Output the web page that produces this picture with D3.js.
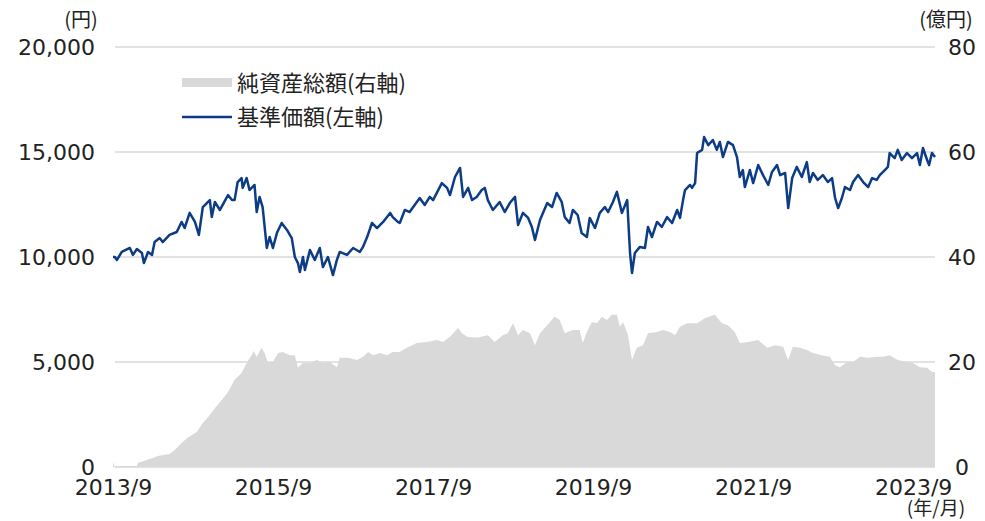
<!DOCTYPE html>
<html>
<head>
<meta charset="utf-8">
<script src="https://cdnjs.cloudflare.com/ajax/libs/d3/7.8.5/d3.min.js"></script>
<style>
  body { margin: 0; background: #fff; }
  svg text { fill: #222; }
  .num { font-family: "DejaVu Sans", "Noto Sans CJK JP", sans-serif; font-size: 23px; }
  .jp { font-family: "Noto Sans CJK JP", sans-serif; }
</style>
</head>
<body>
<div id="chart"></div>
<script>
// 基準価額（左軸, 円）
const priceDates = ["2013-09-01","2013-09-10","2013-09-19","2013-10-11","2013-11-17","2013-12-01","2013-12-19","2014-01-11","2014-01-20","2014-02-08","2014-02-26","2014-03-10","2014-04-02","2014-04-16","2014-05-17","2014-06-19","2014-07-11","2014-07-25","2014-08-17",
  "2014-09-10","2014-09-28","2014-10-16","2014-11-17","2014-11-26","2014-12-10","2015-01-02","2015-02-08","2015-02-26","2015-03-10","2015-03-24","2015-04-11","2015-04-16","2015-05-04","2015-05-17","2015-06-09","2015-06-19","2015-07-02","2015-07-16","2015-08-04","2015-08-17",
  "2015-09-01","2015-09-19","2015-10-11","2015-11-04","2015-11-26","2015-12-10","2015-12-24","2016-01-02","2016-01-16","2016-01-25","2016-02-17","2016-03-10","2016-04-02","2016-04-16","2016-05-09","2016-06-01","2016-06-19","2016-07-02","2016-08-04",
  "2016-09-01","2016-10-02","2016-10-16","2016-11-04","2016-11-26","2016-12-19","2017-01-16","2017-02-17","2017-03-01","2017-03-24","2017-04-02","2017-04-25","2017-05-17","2017-06-09","2017-07-02","2017-07-25","2017-08-17",
  "2017-09-01","2017-10-11","2017-11-04","2017-11-17","2017-12-10","2018-01-02","2018-01-16","2018-02-08","2018-02-26","2018-03-19","2018-04-11","2018-04-25","2018-05-09","2018-06-01","2018-07-02","2018-07-25","2018-08-17",
  "2018-09-10","2018-09-24","2018-10-16","2018-11-09","2018-11-26","2018-12-10","2019-01-02","2019-02-04","2019-02-26","2019-03-19","2019-04-11","2019-04-25","2019-05-17","2019-06-01","2019-06-23","2019-07-11","2019-08-04","2019-08-17",
  "2019-09-10","2019-10-02","2019-10-25","2019-11-09","2019-12-01","2019-12-19","2020-01-11","2020-02-04","2020-02-17","2020-02-26","2020-03-10","2020-04-02","2020-04-25","2020-05-09","2020-05-27","2020-06-19","2020-07-11","2020-08-04","2020-08-27",
  "2020-09-19","2020-10-02","2020-10-16","2020-10-25","2020-11-17","2020-11-26","2020-12-10","2020-12-19","2021-01-11","2021-01-20","2021-02-08","2021-03-01","2021-03-19","2021-04-02","2021-04-16","2021-05-09","2021-06-01","2021-06-19","2021-07-02","2021-07-16","2021-07-25","2021-08-17",
  "2021-09-01","2021-09-24","2021-10-16","2021-11-09","2021-11-26","2021-12-19","2022-01-02","2022-01-25","2022-02-08","2022-02-26","2022-03-19","2022-04-11","2022-05-04","2022-05-17","2022-06-01","2022-06-23","2022-07-16","2022-08-08","2022-08-27",
  "2022-09-10","2022-09-24","2022-10-11","2022-10-25","2022-11-17","2022-12-01","2022-12-24","2023-01-16","2023-02-08","2023-02-26","2023-03-19","2023-04-02","2023-04-25","2023-05-09","2023-05-17","2023-06-09","2023-06-23","2023-07-11","2023-08-04","2023-08-27",
  "2023-09-19","2023-10-02","2023-10-16","2023-11-04","2023-11-13","2023-11-26","2023-12-10"];
const priceValues = [10000,10000,9860,10240,10430,10100,10380,10190,9710,10240,10100,10710,10900,10710,11050,11190,11670,11380,12100,
  11670,11050,12380,12710,11900,12620,12240,12950,12710,12710,13570,13760,13290,13760,13190,13430,12140,12860,12380,10430,10950,
  10430,11140,11620,11290,10900,10000,9710,9290,10000,9380,10330,9860,10430,9520,10000,9140,9860,10240,10100,
  10430,10240,10480,10950,11620,11380,11670,12100,11900,11670,11620,12240,12140,12480,12810,12480,12860,
  12710,13520,13290,12950,13810,14240,12860,13290,12710,12860,13190,13290,12710,12240,12620,12140,12570,
  12860,11520,12100,11860,11430,10810,11760,12570,12380,13050,12620,11900,11620,12240,12000,11140,10950,11860,
  11380,12100,12380,12140,12620,13100,12100,12710,10190,9240,10190,10480,10430,11430,10950,11670,11430,11900,11620,
  12240,11860,12710,13190,13430,13290,13520,14950,15100,15710,15330,15570,15100,15480,14760,15480,15330,14760,13810,14140,13330,14140,
  13520,14380,13900,13430,14050,14380,13900,14000,12330,13760,14290,13810,14520,13570,14000,13670,13900,13570,13760,
  12810,12330,12810,13330,13190,13570,13900,13570,13330,13760,13670,13900,14140,14290,14950,14710,15100,14620,14950,14710,
  14950,14380,15190,14620,14380,14950,14760];

// 純資産総額（右軸, 億円）
const assetDates = ["2013-09-01","2013-09-06","2013-12-19","2013-12-24","2014-01-16","2014-03-01","2014-03-24","2014-05-17","2014-06-09","2014-07-02","2014-08-04",
  "2014-09-19","2014-10-16","2014-11-09","2014-12-10","2015-01-11","2015-02-08","2015-03-10","2015-04-11","2015-05-04","2015-05-27","2015-06-05","2015-06-19","2015-07-11","2015-07-25","2015-08-08",
  "2015-09-01","2015-09-24","2015-10-16","2015-11-17","2015-12-10","2015-12-24","2016-01-16","2016-02-17","2016-03-19","2016-04-16","2016-05-17","2016-06-19","2016-07-02","2016-08-08",
  "2016-09-19","2016-10-16","2016-11-09","2016-12-01","2017-01-02","2017-02-04","2017-03-01","2017-04-02","2017-05-04","2017-06-19","2017-08-04",
  "2017-09-19","2017-10-16","2017-11-17","2017-12-24","2018-01-11","2018-02-04","2018-03-19","2018-05-09","2018-06-09","2018-07-16","2018-08-08",
  "2018-09-01","2018-09-24","2018-10-16","2018-11-17","2018-12-10","2019-01-02","2019-02-04","2019-03-10","2019-04-02","2019-04-25","2019-06-01","2019-07-02","2019-07-16","2019-08-04","2019-08-27",
  "2019-09-19","2019-10-11","2019-11-04","2019-11-26","2019-12-19","2020-01-02","2020-01-16","2020-02-08","2020-02-26","2020-03-19","2020-04-16","2020-05-09","2020-06-19","2020-07-16","2020-08-17",
  "2020-09-10","2020-10-02","2020-11-04","2020-12-19","2021-01-25","2021-03-10","2021-04-11","2021-05-09","2021-06-09","2021-07-02","2021-08-08",
  "2021-09-24","2021-11-04","2021-12-10","2022-01-16","2022-02-08","2022-03-01","2022-04-02","2022-05-04","2022-06-01","2022-07-11","2022-08-17",
  "2022-09-10","2022-10-02","2022-11-04","2022-12-01","2023-01-02","2023-02-08","2023-03-19","2023-04-16","2023-05-17","2023-06-23","2023-08-04",
  "2023-09-01","2023-10-02","2023-11-04","2023-11-26","2023-12-10"];
const assetValues = [1.0,0.2,0.2,0.8,1.1,1.7,2.1,2.5,3.2,4.2,5.5,
  6.7,8.4,9.5,11.2,12.8,14.3,16.6,17.9,19.8,21.3,22.1,21.0,22.7,21.7,20.0,
  20.0,21.7,21.9,21.3,21.3,18.9,19.8,19.8,20.4,19.8,20.0,19.0,20.8,20.8,
  20.4,21.0,21.9,21.3,21.7,21.3,21.9,21.9,22.7,23.6,23.8,
  24.2,23.8,24.8,26.5,25.5,24.8,24.6,25.1,23.8,25.1,25.5,
  27.4,25.1,26.1,25.5,23.2,25.5,27.0,28.6,28.0,25.5,26.1,26.1,23.6,25.7,27.6,
  27.4,28.6,28.0,29.0,29.0,26.7,27.6,25.1,20.4,22.7,23.2,25.5,25.7,26.1,25.7,
  25.1,26.7,27.4,27.4,28.4,29.0,27.4,27.0,25.7,23.6,23.8,
  24.2,22.7,23.2,22.9,20.4,22.9,22.7,22.3,21.7,21.3,21.0,
  19.4,19.0,20.0,20.0,21.0,20.8,21.0,21.0,21.3,20.4,20.0,
  19.8,19.0,18.9,18.1,18.1];

// 軸
const leftTicks = [0, 5000, 10000, 15000, 20000];
const rightTicks = [0, 20, 40, 60, 80];
const xTickDates = ["2013-09-01","2015-09-01","2017-09-01","2019-09-01","2021-09-01","2023-09-01"];
const xTickLabels = ["2013/9","2015/9","2017/9","2019/9","2021/9","2023/9"];
const legendLabels = ["純資産総額(右軸)", "基準価額(左軸)"];

const width = 985, height = 521;
const margin = {top: 47, right: 50, bottom: 54, left: 113};

const parseDate = d3.timeParse("%Y-%m-%d");
const priceData = priceDates.map((d, i) => ({date: parseDate(d), value: priceValues[i]}));
const assetData = assetDates.map((d, i) => ({date: parseDate(d), value: assetValues[i]}));

const svg = d3.select("#chart").append("svg")
    .attr("width", width)
    .attr("height", height);

const x = d3.scaleTime()
    .domain([parseDate("2013-09-01"), parseDate("2023-12-10")])
    .range([margin.left, width - margin.right]);

const yLeft = d3.scaleLinear()
    .domain([0, 20000])
    .range([height - margin.bottom, margin.top]);

const yRight = d3.scaleLinear()
    .domain([0, 80])
    .range([height - margin.bottom, margin.top]);

// grid lines (behind the area)
svg.append("g")
    .selectAll("line")
    .data(leftTicks)
    .enter().append("line")
    .attr("x1", x.range()[0] + 2)
    .attr("x2", x.range()[1])
    .attr("y1", d => yLeft(d))
    .attr("y2", d => yLeft(d))
    .attr("stroke", "#d9d9d9")
    .attr("stroke-width", 1.5);

// net assets area
const area = d3.area()
    .x(d => x(d.date))
    .y0(yRight(0))
    .y1(d => yRight(d.value));

svg.append("path")
    .datum(assetData)
    .attr("d", area)
    .attr("fill", "#d9d9d9");

// NAV line
const line = d3.line()
    .x(d => x(d.date))
    .y(d => yLeft(d.value));

svg.append("path")
    .datum(priceData)
    .attr("d", line)
    .attr("fill", "none")
    .attr("stroke", "#0d3c87")
    .attr("stroke-width", 2.5)
    .attr("stroke-linejoin", "round");

// left axis
const yAxisLeft = d3.axisLeft(yLeft)
    .tickValues(leftTicks)
    .tickSize(0)
    .tickPadding(18)
    .tickFormat(d3.format(","));

svg.append("g")
    .attr("class", "num")
    .attr("transform", `translate(${margin.left},0)`)
    .call(yAxisLeft)
    .call(g => g.select(".domain").remove())
    .selectAll("text")
    .attr("font-size", 22)
    .attr("font-family", null)
    .attr("dy", "0.36em")
    .attr("fill", "#222");

// right axis
const yAxisRight = d3.axisRight(yRight)
    .tickValues(rightTicks)
    .tickSize(0)
    .tickPadding(0);

svg.append("g")
    .attr("class", "num")
    .attr("transform", `translate(962,0)`)
    .call(yAxisRight)
    .call(g => g.select(".domain").remove())
    .selectAll("text")
    .attr("font-size", 22)
    .attr("font-family", null)
    .attr("text-anchor", "middle")
    .attr("dy", "0.36em")
    .attr("fill", "#222");

// x axis
const xAxis = d3.axisBottom(x)
    .tickValues(xTickDates.map(parseDate))
    .tickSize(0)
    .tickPadding(0)
    .tickFormat((d, i) => xTickLabels[i]);

svg.append("g")
    .attr("class", "num")
    .attr("transform", `translate(0,${height - margin.bottom})`)
    .call(xAxis)
    .call(g => g.select(".domain").remove())
    .selectAll("text")
    .attr("font-size", 22)
    .attr("font-family", null)
    .attr("y", 28)
    .attr("dy", 0)
    .attr("fill", "#222");

// unit labels
svg.append("text").attr("class", "jp")
    .attr("x", 81).attr("y", 27)
    .attr("text-anchor", "middle")
    .attr("font-size", 20)
    .text("(円)");

svg.append("text").attr("class", "jp")
    .attr("x", 946).attr("y", 27)
    .attr("text-anchor", "middle")
    .attr("font-size", 20)
    .text("(億円)");

svg.append("text").attr("class", "jp")
    .attr("x", 936).attr("y", 515)
    .attr("text-anchor", "middle")
    .attr("font-size", 19)
    .text("(年/月)");

// legend
const legend = svg.append("g").attr("class", "jp");

legend.append("rect")
    .attr("x", 182).attr("y", 78)
    .attr("width", 50).attr("height", 9)
    .attr("fill", "#d9d9d9");

legend.append("line")
    .attr("x1", 182).attr("x2", 232)
    .attr("y1", 117).attr("y2", 117)
    .attr("stroke", "#0d3c87")
    .attr("stroke-width", 2.5);

legend.selectAll(".legend-text")
    .data(legendLabels)
    .enter().append("text")
    .attr("class", "legend-text")
    .attr("x", 237)
    .attr("y", (d, i) => [83, 117][i])
    .attr("dy", "0.36em")
    .attr("font-size", 22)
    .text(d => d);
</script>
</body>
</html>
